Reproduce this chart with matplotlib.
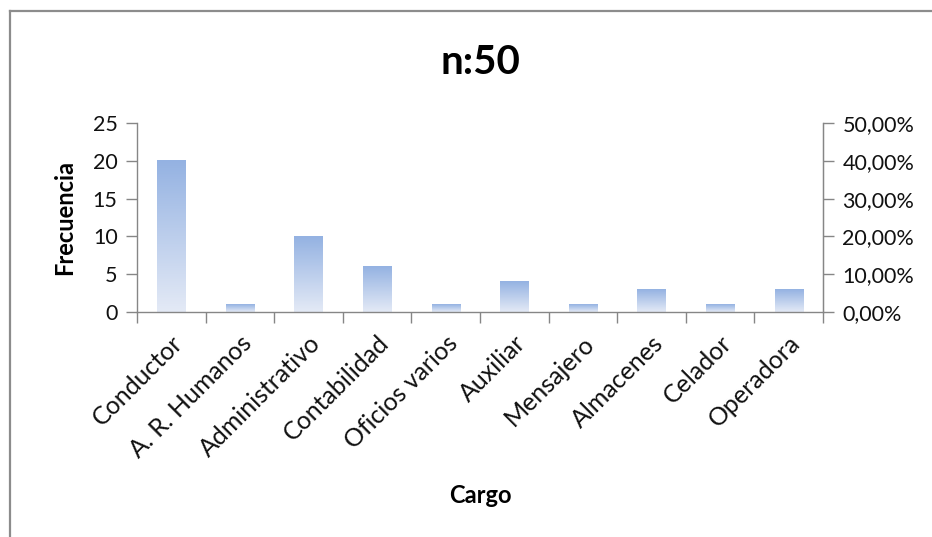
import matplotlib
matplotlib.use("Agg")
import matplotlib.pyplot as plt
import numpy as np
from matplotlib.ticker import FuncFormatter, FixedLocator
from matplotlib.colors import LinearSegmentedColormap
from matplotlib.lines import Line2D

plt.rcParams['font.family'] = ['Lato', 'DejaVu Sans']

categories = ["Conductor", "A. R. Humanos", "Administrativo", "Contabilidad",
              "Oficios varios", "Auxiliar", "Mensajero", "Almacenes",
              "Celador", "Operadora"]
frecuencia = [20, 1, 10, 6, 1, 4, 1, 3, 1, 3]
total = 50
freq_ticks = [0, 5, 10, 15, 20, 25]
pct_ticks = [0.0, 0.1, 0.2, 0.3, 0.4, 0.5]

W, H = 932, 537
fig = plt.figure(figsize=(W / 100, H / 100), dpi=100)
fig.patch.set_facecolor("white")

# chart frame (top and left edges)
frame_col = "#8c8c8c"
fig.add_artist(Line2D([10 / W, 1.0], [1 - 11 / H, 1 - 11 / H], color=frame_col, lw=1.6,
                      transform=fig.transFigure))
fig.add_artist(Line2D([10 / W, 10 / W], [0.0, 1 - 11 / H], color=frame_col, lw=1.6,
                      transform=fig.transFigure))

left, right = 137 / W, 823 / W
bottom, top = 1 - 312 / H, 1 - 123 / H
ax = fig.add_axes([left, bottom, right - left, top - bottom])

x = np.arange(len(categories))
bars = ax.bar(x, frecuencia, width=0.41, color="none", edgecolor="none", zorder=2)

cmap = LinearSegmentedColormap.from_list("barfill", ["#e4eaf6", "#94b2e2"])
grad = np.linspace(0, 1, 256).reshape(-1, 1)
for b in bars:
    x0 = b.get_x()
    w = b.get_width()
    h = b.get_height()
    ax.imshow(grad, cmap=cmap, origin="lower", aspect="auto",
              extent=(x0, x0 + w, 0, h), zorder=2, interpolation="bilinear")

ax.set_xlim(-0.5, len(categories) - 0.5)
ax.set_ylim(0, 25)
ax.set_yticks(freq_ticks)

axis_col = "#868686"
ax.spines["top"].set_visible(False)
for s in ["left", "bottom", "right"]:
    ax.spines[s].set_color(axis_col)
    ax.spines[s].set_linewidth(1.0)

ax.set_xticks(x)
ax.set_xticklabels(categories, rotation=45, ha="right", rotation_mode="anchor",
                   fontsize=18, color="#111111")
ax.tick_params(axis="x", which="major", length=0, pad=14)
ax.xaxis.set_minor_locator(FixedLocator(np.arange(-0.5, len(categories), 1.0)))
ax.tick_params(axis="x", which="minor", length=8, color=axis_col, width=1.0)
ax.tick_params(axis="y", length=8, color=axis_col, width=1.0, labelsize=15.5,
               labelcolor="#111111", pad=6)

ax.set_ylabel("Frecuencia", fontsize=17, fontweight="bold", labelpad=12)
ax.set_xlabel("Cargo", fontsize=17, fontweight="bold", labelpad=16)

ax2 = ax.twinx()
ax2.set_ylim(0, 0.5)
ax2.set_yticks(pct_ticks)
ax2.yaxis.set_major_formatter(FuncFormatter(lambda v, p: f"{v * 100:.2f}%".replace(".", ",")))
ax2.tick_params(axis="y", length=8, color=axis_col, width=1.0, labelsize=15.5,
                labelcolor="#111111", pad=6)
for s in ["top", "left", "bottom"]:
    ax2.spines[s].set_visible(False)
ax2.spines["right"].set_color(axis_col)

fig.text(480 / W, 1 - 63 / H, f"n:{total}", ha="center", va="center",
         fontsize=29, fontweight="bold")

fig.savefig("out.png", dpi=100, facecolor="white")
